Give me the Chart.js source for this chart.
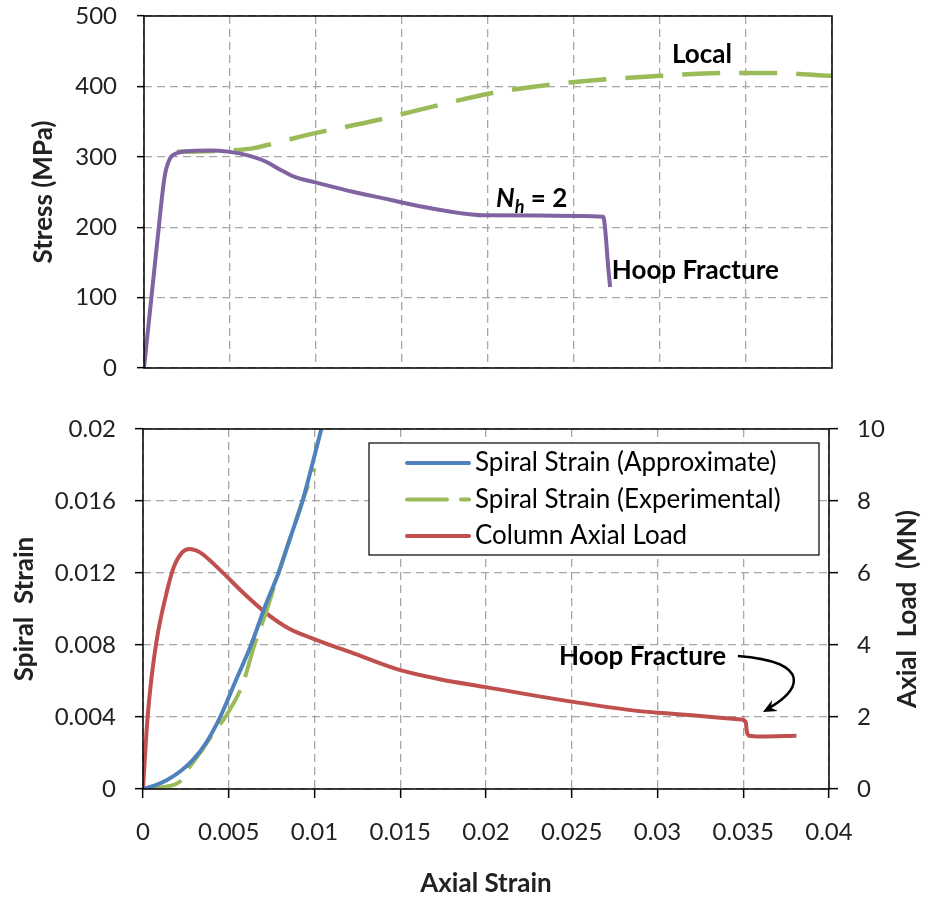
<!DOCTYPE html>
<html>
<head>
<meta charset="utf-8">
<script src="https://cdn.jsdelivr.net/npm/chart.js@4.4.0/dist/chart.umd.min.js"></script>
<style>
  body { margin: 0; background: #fff; }
  #wrap { position: relative; width: 925px; height: 899px; }
  #topBox { position: absolute; left: 0; top: 0; width: 925px; height: 400px; }
  #botBox { position: absolute; left: 0; top: 400px; width: 925px; height: 499px; }
</style>
</head>
<body>
<div id="wrap">
  <div id="topBox"><canvas id="topChart" width="925" height="400"></canvas></div>
  <div id="botBox"><canvas id="botChart" width="925" height="499"></canvas></div>
</div>
<script>
// ---- top panel: stress vs strain
const stressX = [0, 0.0004, 0.0008, 0.0012, 0.0015, 0.0019, 0.0025, 0.0037, 0.005, 0.0062, 0.0071, 0.0079, 0.0088, 0.0099, 0.0122, 0.0143, 0.0162, 0.0184, 0.0197, 0.0267, 0.0268, 0.0270, 0.0271];
const stressY = [0, 93, 186, 272, 297, 305, 308, 309, 307, 301, 293, 282, 271, 264, 250, 239, 229, 220, 217, 215, 200, 140, 115];
const localX = [0.0019, 0.0037, 0.005, 0.0063, 0.0077, 0.01, 0.013, 0.0174, 0.0201, 0.0249, 0.030, 0.0339, 0.0366, 0.04];
const localY = [307, 308, 309, 312, 320, 334, 349, 375, 390, 406, 415, 419, 419, 415];

// ---- bottom panel: spiral strain + axial load vs axial strain
const approxX = [0, 0.0007, 0.0014, 0.0022, 0.0029, 0.0037, 0.0045, 0.0054, 0.0063, 0.0071, 0.0079, 0.0086, 0.0093, 0.0104];
const approxY = [0, 0.0002, 0.0005, 0.001, 0.0016, 0.0026, 0.004, 0.006, 0.008, 0.0101, 0.012, 0.014, 0.016, 0.02];
const expX = [0, 0.0011, 0.0022, 0.0027, 0.0034, 0.0041, 0.0048, 0.0058, 0.0065, 0.0072, 0.0079, 0.0086, 0.0093, 0.01];
const expY = [0, 0.0001, 0.00045, 0.0012, 0.0021, 0.0031, 0.004, 0.0058, 0.008, 0.0099, 0.012, 0.014, 0.016, 0.0178];
const loadX = [0, 0.0002, 0.0004, 0.0008, 0.0014, 0.0018, 0.0023, 0.0027, 0.0033, 0.0045, 0.0058, 0.0072, 0.0085, 0.0099, 0.0121, 0.015, 0.0173, 0.02, 0.0251, 0.03, 0.0349, 0.03515, 0.0352, 0.03535, 0.036, 0.0381];
const loadY = [0, 1.56, 2.67, 4.14, 5.5, 6.17, 6.58, 6.67, 6.58, 6.08, 5.47, 4.88, 4.46, 4.18, 3.8, 3.3, 3.05, 2.83, 2.42, 2.12, 1.93, 1.85, 1.62, 1.48, 1.46, 1.48];

const seriesLabels = ['Spiral Strain (Approximate)', 'Spiral Strain (Experimental)', 'Column Axial Load'];

const FONT = 'Lato';
const GRID = '#a6a6a6';
const pts = (xs, ys) => xs.map((x, i) => ({ x: x, y: ys[i] }));
const fmt = v => String(+v.toFixed(4));

// scales: drop the label overhang so layout padding sets the plot box
const noPad = s => { s.paddingTop = 0; s.paddingBottom = 0; s.paddingLeft = 0; s.paddingRight = 0; };

// black box round the plot area
const framePlugin = {
  id: 'frame',
  afterDatasetsDraw(chart) {
    const a = chart.chartArea, ctx = chart.ctx;
    ctx.save();
    ctx.strokeStyle = '#000';
    ctx.lineWidth = 1.5;
    ctx.strokeRect(a.left, a.top, a.right - a.left, a.bottom - a.top);
    ctx.restore();
  }
};

// text notes on the top panel
const topNotes = {
  id: 'topNotes',
  afterDraw(chart) {
    const ctx = chart.ctx, sx = chart.scales.x, sy = chart.scales.y;
    ctx.save();
    ctx.fillStyle = '#000';
    ctx.textBaseline = 'middle';
    ctx.font = 'bold 26px ' + FONT;
    ctx.textAlign = 'center';
    ctx.fillText('Local', sx.getPixelForValue(0.03244), sy.getPixelForValue(445));
    ctx.textAlign = 'left';
    ctx.fillText('Hoop Fracture', sx.getPixelForValue(0.0272), sy.getPixelForValue(139));
    // N_h = 2
    let x = sx.getPixelForValue(0.02047), y = sy.getPixelForValue(240);
    ctx.font = 'italic bold 26px ' + FONT;
    ctx.fillText('N', x, y);
    x += ctx.measureText('N').width;
    ctx.font = 'italic bold 18px ' + FONT;
    ctx.fillText('h', x, y + 8);
    x += ctx.measureText('h').width;
    ctx.font = 'bold 26px ' + FONT;
    ctx.fillText(' = 2', x, y);
    ctx.restore();
  }
};

// legend box, note, arrow and right axis title on the bottom panel
const botNotes = {
  id: 'botNotes',
  afterDraw(chart) {
    const ctx = chart.ctx, a = chart.chartArea;
    const sx = chart.scales.x, sy = chart.scales.y2;
    ctx.save();
    // legend
    const bx = a.left + 226, by = a.top + 14, bw = a.right - 10 - bx, bh = 112;
    ctx.fillStyle = '#fff';
    ctx.fillRect(bx, by, bw, bh);
    ctx.strokeStyle = '#000';
    ctx.lineWidth = 1.2;
    ctx.strokeRect(bx, by, bw, bh);
    chart.data.datasets.forEach((ds, i) => {
      const ly = by + 20 + i * 36.5;
      ctx.strokeStyle = ds.borderColor;
      ctx.lineWidth = 4;
      ctx.lineCap = 'round';
      ctx.setLineDash(ds.borderDash || []);
      ctx.beginPath();
      ctx.moveTo(bx + 38, ly);
      ctx.lineTo(bx + 100, ly);
      ctx.stroke();
      ctx.setLineDash([]);
      ctx.fillStyle = '#000';
      ctx.font = '26px ' + FONT;
      ctx.textAlign = 'left';
      ctx.textBaseline = 'middle';
      ctx.fillText(ds.label, bx + 106, ly);
    });
    // hoop fracture note
    ctx.font = 'bold 26px ' + FONT;
    ctx.fillStyle = '#000';
    ctx.fillText('Hoop Fracture', sx.getPixelForValue(0.02426), sy.getPixelForValue(3.67));
    // curved arrow
    const p0 = [sx.getPixelForValue(0.03469), sy.getPixelForValue(3.694)];
    const c1 = [sx.getPixelForValue(0.03918), sy.getPixelForValue(3.528)];
    const c2 = [sx.getPixelForValue(0.03831), sy.getPixelForValue(2.694)];
    const p3 = [sx.getPixelForValue(0.03615), sy.getPixelForValue(2.139)];
    ctx.strokeStyle = '#000';
    ctx.lineWidth = 2.5;
    ctx.lineCap = 'butt';
    ctx.beginPath();
    ctx.moveTo(p0[0], p0[1]);
    ctx.bezierCurveTo(c1[0], c1[1], c2[0], c2[1], p3[0] + 4, p3[1] - 3);
    ctx.stroke();
    const ang = Math.atan2(p3[1] - c2[1], p3[0] - c2[0]);
    const L = 15, W = 0.42;
    ctx.fillStyle = '#000';
    ctx.beginPath();
    ctx.moveTo(p3[0], p3[1]);
    ctx.lineTo(p3[0] - L * Math.cos(ang - W), p3[1] - L * Math.sin(ang - W));
    ctx.lineTo(p3[0] - 0.6 * L * Math.cos(ang), p3[1] - 0.6 * L * Math.sin(ang));
    ctx.lineTo(p3[0] - L * Math.cos(ang + W), p3[1] - L * Math.sin(ang + W));
    ctx.closePath();
    ctx.fill();
    // right axis title, reading bottom to top
    ctx.translate(chart.width - 17, (a.top + a.bottom) / 2);
    ctx.rotate(-Math.PI / 2);
    ctx.font = 'bold 26px ' + FONT;
    ctx.fillStyle = '#222';
    ctx.textAlign = 'center';
    ctx.textBaseline = 'middle';
    ctx.fillText('Axial  Load  (MN)', 0, 0);
    ctx.restore();
  }
};

const gridOpts = (ticks, tl) => ({
  color: GRID,
  lineWidth: 1.3,
  drawTicks: ticks,
  tickLength: tl,
  tickColor: '#000',
  tickWidth: 1.5,
  tickBorderDash: []
});

const tickFont = { family: FONT, size: 24 };
const titleFont = { family: FONT, size: 26, weight: 'bold' };
const line = { showLine: true, pointRadius: 0, fill: false, cubicInterpolationMode: 'monotone' };

new Chart(document.getElementById('topChart'), {
  type: 'scatter',
  data: {
    datasets: [
      Object.assign({ label: 'N_h = 2', data: pts(stressX, stressY), borderColor: '#8064a2', borderWidth: 4 }, line),
      Object.assign({ label: 'Local', data: pts(localX, localY), borderColor: '#9bbb59', borderWidth: 4.5, borderDash: [38, 19] }, line)
    ]
  },
  options: {
    responsive: false,
    animation: false,
    layout: { padding: { left: 0, right: 93, top: 16, bottom: 0 } },
    plugins: { legend: { display: false }, tooltip: { enabled: false } },
    scales: {
      x: {
        type: 'linear', min: 0, max: 0.04,
        ticks: { stepSize: 0.005, display: false },
        grid: gridOpts(false, 0),
        border: { display: false, dash: [8, 5] },
        afterFit: s => { s.height = 32; noPad(s); }
      },
      y: {
        type: 'linear', min: 0, max: 500,
        ticks: { stepSize: 100, font: tickFont, color: '#222', padding: 20 },
        grid: gridOpts(true, 7),
        border: { display: false, dash: [8, 5] },
        title: { display: true, text: 'Stress (MPa)', font: titleFont, color: '#222', padding: { top: 28, bottom: 0 } },
        afterFit: s => { s.width = 144; noPad(s); }
      }
    }
  },
  plugins: [framePlugin, topNotes]
});

new Chart(document.getElementById('botChart'), {
  type: 'scatter',
  data: {
    datasets: [
      Object.assign({ label: seriesLabels[0], data: pts(approxX, approxY), yAxisID: 'y', borderColor: '#4f81bd', borderWidth: 4 }, line),
      Object.assign({ label: seriesLabels[1], data: pts(expX, expY), yAxisID: 'y', borderColor: '#9bbb59', borderWidth: 4, borderDash: [40, 14] }, line),
      Object.assign({ label: seriesLabels[2], data: pts(loadX, loadY), yAxisID: 'y2', borderColor: '#c0504d', borderWidth: 4 }, line)
    ]
  },
  options: {
    responsive: false,
    animation: false,
    layout: { padding: { left: 0, right: 0, top: 29, bottom: 0 } },
    plugins: { legend: { display: false }, tooltip: { enabled: false } },
    scales: {
      x: {
        type: 'linear', min: 0, max: 0.04,
        ticks: { stepSize: 0.005, font: tickFont, color: '#222', padding: 20, callback: fmt, maxRotation: 0 },
        grid: gridOpts(true, 9),
        border: { display: false, dash: [8, 5] },
        title: { display: true, text: 'Axial Strain', font: titleFont, color: '#222', padding: { top: 0, bottom: 0 } },
        afterFit: s => { s.height = 110; noPad(s); }
      },
      y: {
        type: 'linear', position: 'left', min: 0, max: 0.02,
        ticks: { stepSize: 0.004, font: tickFont, color: '#222', padding: 19, callback: fmt },
        grid: gridOpts(true, 8),
        border: { display: false, dash: [8, 5] },
        title: { display: true, text: 'Spiral  Strain', font: titleFont, color: '#222', padding: { top: 9, bottom: 0 } },
        afterFit: s => { s.width = 143; noPad(s); }
      },
      y2: {
        type: 'linear', position: 'right', min: 0, max: 10,
        ticks: { stepSize: 2, font: tickFont, color: '#222', padding: 19 },
        grid: Object.assign(gridOpts(true, 9), { drawOnChartArea: false }),
        border: { display: false },
        afterFit: s => { s.width = 96; noPad(s); }
      }
    }
  },
  plugins: [framePlugin, botNotes]
});
</script>
</body>
</html>
